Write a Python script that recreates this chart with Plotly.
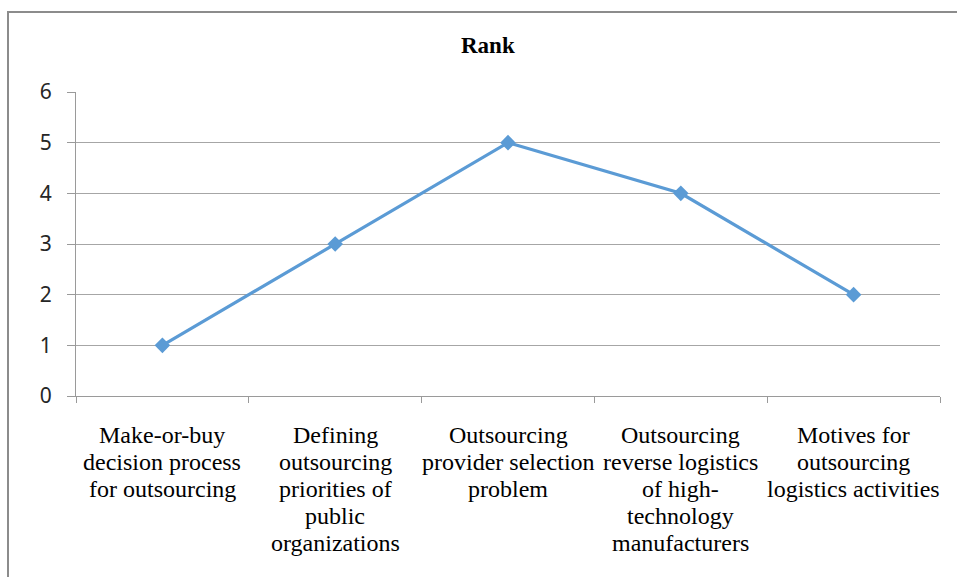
import plotly.graph_objects as go

categories = [
    "Make-or-buy decision process for outsourcing",
    "Defining outsourcing priorities of public organizations",
    "Outsourcing provider selection problem",
    "Outsourcing reverse logistics of high-technology manufacturers",
    "Motives for outsourcing logistics activities",
]
label_lines = [
    ["Make-or-buy", "decision process", "for outsourcing"],
    ["Defining", "outsourcing", "priorities of", "public", "organizations"],
    ["Outsourcing", "provider selection", "problem"],
    ["Outsourcing", "reverse logistics", "of high-", "technology", "manufacturers"],
    ["Motives for", "outsourcing", "logistics activities"],
]
rank = [1, 3, 5, 4, 2]
y_ticks = [0, 1, 2, 3, 4, 5, 6]

W, H = 957, 577
L, R, T, B = 76, 17, 92, 181
pw, ph = W - L - R, H - T - B

def px_x(x):
    return (x - L) / pw

def px_y(y):
    return (H - B - y) / ph

fig = go.Figure()
fig.add_trace(go.Scatter(
    x=categories, y=rank, mode="lines+markers",
    line=dict(color="#5B9BD5", width=3.2),
    marker=dict(symbol="diamond", size=12, color="#5B9BD5"),
    showlegend=False, cliponaxis=False,
))

# category labels, one annotation per wrapped line for tighter leading
annotations = []
for cat, lines in zip(categories, label_lines):
    for i, line in enumerate(lines):
        annotations.append(dict(
            text=line, x=cat, xref="x", y=px_y(435 + 27 * i), yref="paper",
            xanchor="center", yanchor="middle", showarrow=False,
            font=dict(family="Liberation Serif", size=24, color="#000000"),
        ))

annotations.append(dict(
    text="<b>Rank</b>", x=px_x(488), y=px_y(46), xref="paper", yref="paper",
    xanchor="center", yanchor="middle", showarrow=False,
    font=dict(family="Liberation Serif", size=23, color="#000000"),
))

fig.update_layout(
    width=W, height=H,
    margin=dict(l=L, r=R, t=T, b=B),
    paper_bgcolor="white", plot_bgcolor="white",
    xaxis=dict(
        type="category", range=[-0.5, 4.5],
        tickson="boundaries", ticks="outside", ticklen=6, tickcolor="#9a9a9a",
        showline=True, linecolor="#9a9a9a", linewidth=1,
        showgrid=False, zeroline=False, showticklabels=False,
    ),
    yaxis=dict(
        range=[0, 6], tickvals=y_ticks,
        ticks="outside", ticklen=8, tickcolor="#9a9a9a",
        showline=True, linecolor="#9a9a9a", linewidth=1,
        showgrid=True, gridcolor="#a6a6a6", gridwidth=1,
        zeroline=False,
        tickfont=dict(family="Noto Sans", size=21, color="#262626"),
        ticklabelstandoff=11,
    ),
    annotations=annotations,
    shapes=[dict(
        type="rect", xref="paper", yref="paper",
        x0=px_x(8), x1=px_x(990), y0=px_y(12), y1=px_y(620),
        line=dict(color="#8c8c8c", width=2), fillcolor="rgba(0,0,0,0)",
        layer="above",
    )],
)

fig.write_html("out.html")
